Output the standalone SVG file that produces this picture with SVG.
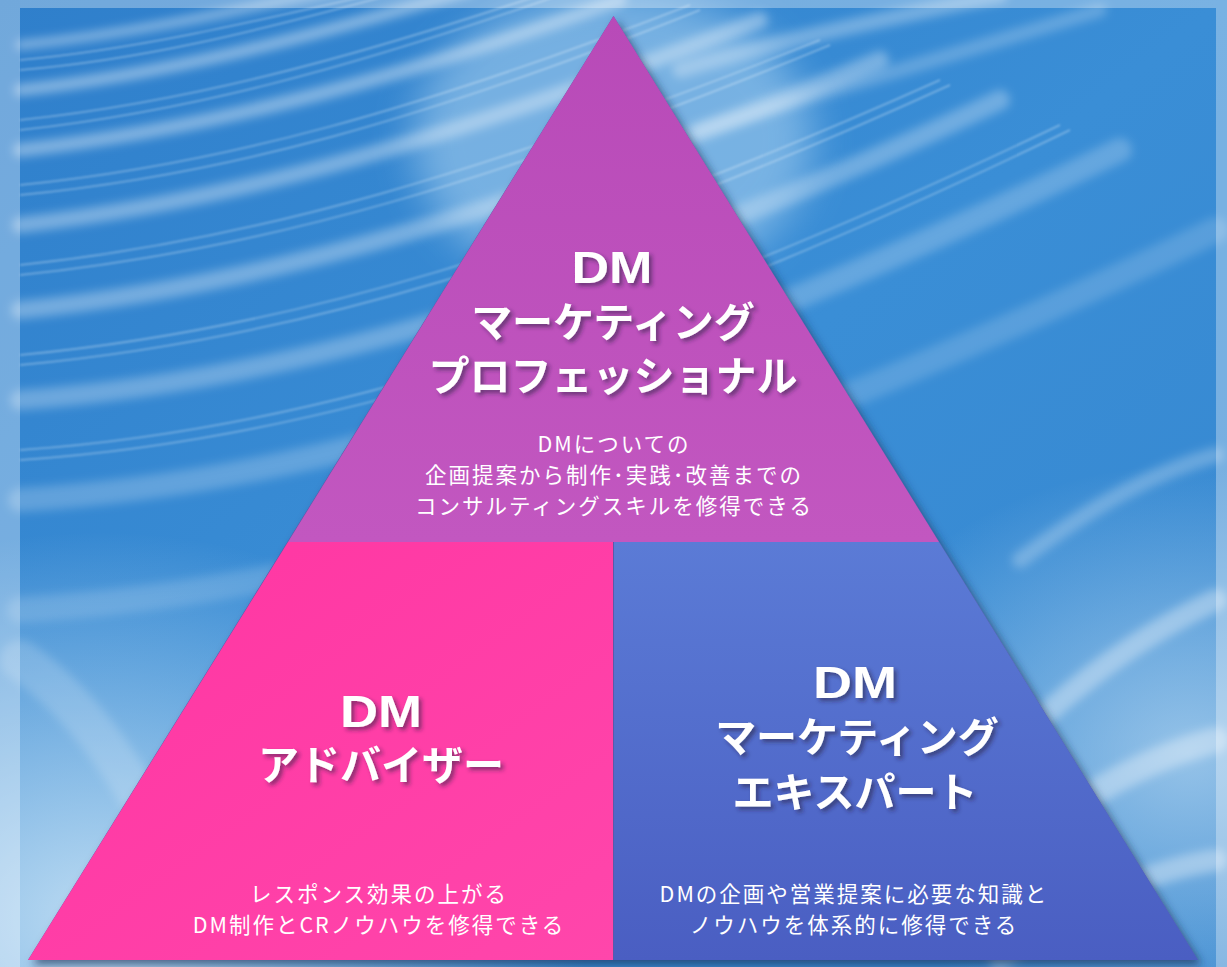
<svg xmlns="http://www.w3.org/2000/svg" width="1227" height="967" viewBox="0 0 1227 967">
<defs>
  <linearGradient id="bg" x1="0" y1="0" x2="1" y2="1">
    <stop offset="0" stop-color="#2f7fcb"/>
    <stop offset="0.5" stop-color="#3a8ed6"/>
    <stop offset="1" stop-color="#3586cf"/>
  </linearGradient>
  <radialGradient id="glowLL" cx="0.08" cy="0.95" r="0.4">
    <stop offset="0" stop-color="#d2e8f7" stop-opacity="0.85"/>
    <stop offset="1" stop-color="#d2e8f7" stop-opacity="0"/>
  </radialGradient>
  <radialGradient id="glowR" cx="0.97" cy="0.78" r="0.3">
    <stop offset="0" stop-color="#d5eaf8" stop-opacity="0.6"/>
    <stop offset="1" stop-color="#d5eaf8" stop-opacity="0"/>
  </radialGradient>
  <linearGradient id="gTop" x1="0" y1="0" x2="0" y2="1">
    <stop offset="0" stop-color="#b84ab8"/>
    <stop offset="1" stop-color="#c257c0"/>
  </linearGradient>
  <linearGradient id="gPink" x1="0" y1="0" x2="1" y2="1">
    <stop offset="0" stop-color="#ff35a2"/>
    <stop offset="1" stop-color="#ff46ab"/>
  </linearGradient>
  <linearGradient id="gBlue" x1="0" y1="0" x2="0" y2="1">
    <stop offset="0" stop-color="#5b7bd6"/>
    <stop offset="1" stop-color="#4a5ec2"/>
  </linearGradient>
  <filter id="blur" filterUnits="userSpaceOnUse" x="0" y="0" width="1227" height="967">
    <feGaussianBlur stdDeviation="5"/>
  </filter>
  <filter id="blurS" filterUnits="userSpaceOnUse" x="0" y="0" width="1227" height="967">
    <feGaussianBlur stdDeviation="1.2"/>
  </filter>
  <filter id="blur2" filterUnits="userSpaceOnUse" x="0" y="0" width="1227" height="967">
    <feGaussianBlur stdDeviation="20"/>
  </filter>
  <filter id="triShadow" filterUnits="userSpaceOnUse" x="0" y="0" width="1227" height="967">
    <feDropShadow dx="4" dy="5" stdDeviation="4" flood-color="#1b2f55" flood-opacity="0.65"/>
  </filter>
  <filter id="txtShadow" x="-10%" y="-20%" width="120%" height="150%">
    <feDropShadow dx="3" dy="3" stdDeviation="2" flood-color="#2a1a40" flood-opacity="0.55"/>
  </filter>
  <style>
    .head { font-family: "Liberation Sans", "Noto Sans CJK JP", sans-serif; font-weight: bold; fill: #ffffff; text-anchor: middle; filter: url(#txtShadow); }
    .dm { font-size: 45px; }
    .kana { font-size: 41px; }
    .desc { font-family: "Noto Sans CJK JP", sans-serif; font-size: 21.5px; letter-spacing: 2px; fill: #ffffff; text-anchor: middle; }
    .streak { fill: none; stroke: #ffffff; stroke-linecap: round; filter: url(#blur); }
    .fine { fill: none; stroke: #ffffff; stroke-width: 1.5; stroke-opacity: 0.35; filter: url(#blurS); }
  </style>
</defs>

<g id="background">
  <rect x="0" y="0" width="1227" height="967" fill="url(#bg)"/>
  <rect x="0" y="0" width="1227" height="967" fill="url(#glowLL)"/>
  <rect x="0" y="0" width="1227" height="967" fill="url(#glowR)"/>
  <ellipse cx="613" cy="140" rx="200" ry="150" fill="#c6e3f7" opacity="0.45" filter="url(#blur2)"/>
  <path class="streak" d="M20 45 C 120 35 220 15 330 -10" stroke-width="9" stroke-opacity="0.4"/>
  <path class="streak" d="M20 90 C 160 75 300 40 470 -10" stroke-width="12" stroke-opacity="0.4"/>
  <path class="streak" d="M20 150 C 200 130 380 85 620 0" stroke-width="14" stroke-opacity="0.38"/>
  <path class="streak" d="M20 225 C 240 200 450 140 760 20" stroke-width="16" stroke-opacity="0.35"/>
  <path class="streak" d="M20 310 C 270 285 520 210 880 60" stroke-width="18" stroke-opacity="0.32"/>
  <path class="streak" d="M20 400 C 300 380 600 290 1000 100" stroke-width="20" stroke-opacity="0.28"/>
  <path class="streak" d="M20 500 C 330 480 650 380 1120 150" stroke-width="24" stroke-opacity="0.22"/>
  <path class="streak" d="M20 610 C 350 590 700 480 1216 230" stroke-width="26" stroke-opacity="0.16"/>
  <path class="fine" d="M20 60 C 130 50 240 25 370 -5 M20 70 C 140 60 250 33 390 -5 M20 120 C 180 103 340 62 540 -5 M20 130 C 185 112 345 70 560 -5 M20 185 C 220 165 420 110 690 5 M20 195 C 225 175 425 120 700 10 M20 265 C 255 240 480 175 820 40 M20 275 C 260 250 490 185 830 45 M20 355 C 285 330 560 250 940 80 M20 365 C 290 340 565 260 950 85 M20 450 C 310 430 620 335 1060 125 M20 460 C 315 440 625 345 1070 130"/>
  <path class="streak" d="M680 70 C 780 40 880 20 1000 -5" stroke-width="16" stroke-opacity="0.3"/>
  <path class="streak" d="M700 130 C 820 95 950 55 1100 10" stroke-width="14" stroke-opacity="0.22"/>
  <path class="streak" d="M960 800 C 1050 700 1130 640 1216 600" stroke-width="22" stroke-opacity="0.35"/>
  <path class="streak" d="M980 880 C 1070 800 1140 760 1216 740" stroke-width="26" stroke-opacity="0.35"/>
  <path class="streak" d="M1000 960 C 1080 900 1150 870 1216 860" stroke-width="22" stroke-opacity="0.35"/>
  <path class="streak" d="M1020 560 C 1100 500 1160 470 1216 455" stroke-width="16" stroke-opacity="0.25"/>
  <path class="streak" d="M20 660 C 80 700 140 780 190 900" stroke-width="40" stroke-opacity="0.18"/>
  <rect x="0" y="0" width="1227" height="8" fill="#ffffff" opacity="0.32"/>
  <rect x="0" y="8" width="20" height="959" fill="#ffffff" opacity="0.32"/>
  <rect x="1216" y="8" width="11" height="959" fill="#ffffff" opacity="0.32"/>
</g>

<g id="shadow" filter="url(#triShadow)">
  <polygon points="613.5,16 1198,960 28,960" fill="#5a5aa8"/>
</g>

<g id="professional">
  <polygon points="613.5,16 939,542 288,542" fill="url(#gTop)"/>
  <text class="head dm" x="612" y="283" textLength="81" lengthAdjust="spacingAndGlyphs">DM</text>
  <text class="head kana" x="613" y="337">マーケティング</text>
  <text class="head kana" x="613" y="391">プロフェッショナル</text>
  <text class="desc" x="614" y="452">DMについての</text>
  <text class="desc" x="614" y="483">企画提案から制作･実践･改善までの</text>
  <text class="desc" x="614" y="514">コンサルティングスキルを修得できる</text>
</g>

<g id="adviser">
  <polygon points="288,542 613,542 613,960 28,960" fill="url(#gPink)"/>
  <text class="head dm" x="381" y="727" textLength="82" lengthAdjust="spacingAndGlyphs">DM</text>
  <text class="head kana" x="381" y="780">アドバイザー</text>
  <text class="desc" x="379" y="902">レスポンス効果の上がる</text>
  <text class="desc" x="379" y="933">DM制作とCRノウハウを修得できる</text>
</g>

<g id="expert">
  <polygon points="614,542 939,542 1198,960 614,960" fill="url(#gBlue)"/>
  <text class="head dm" x="855" y="698" textLength="84" lengthAdjust="spacingAndGlyphs">DM</text>
  <text class="head kana" x="857" y="752">マーケティング</text>
  <text class="head kana" x="855" y="807">エキスパート</text>
  <text class="desc" x="854" y="902">DMの企画や営業提案に必要な知識と</text>
  <text class="desc" x="854" y="933">ノウハウを体系的に修得できる</text>
</g>

<g id="connectors"></g>
</svg>
